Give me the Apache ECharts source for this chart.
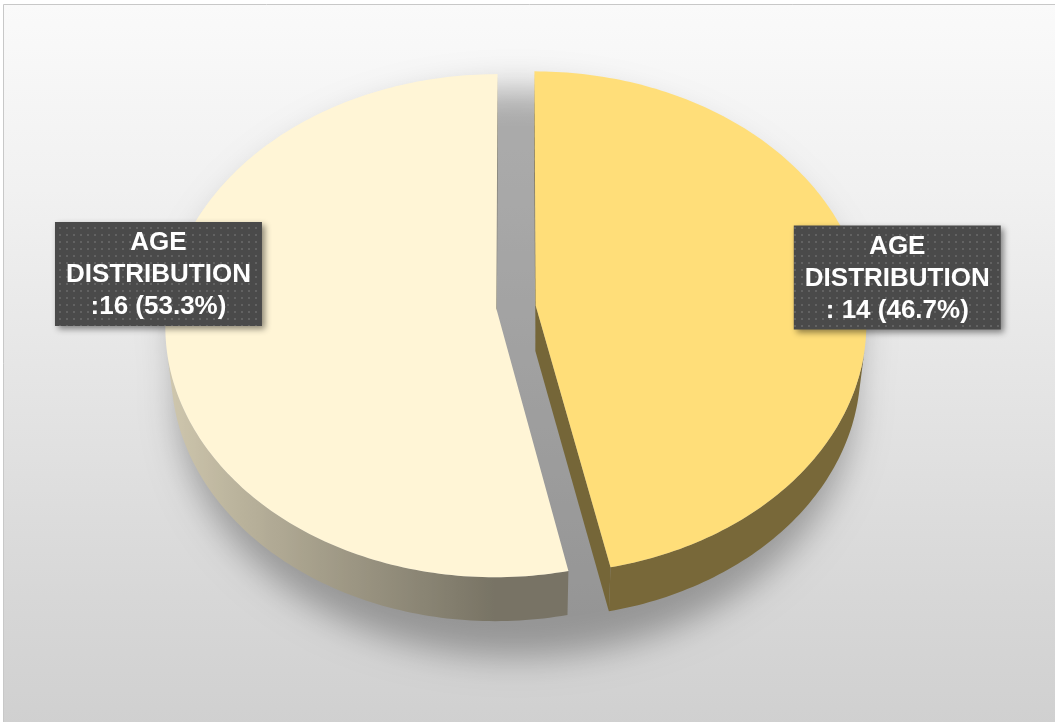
<!DOCTYPE html>
<html>
<head>
<meta charset="utf-8">
<script src="https://cdn.jsdelivr.net/npm/echarts@6/dist/echarts.min.js"></script>
<style>
  html, body { margin: 0; padding: 0; background: #ffffff; }
  #chart { width: 1055px; height: 722px; }
</style>
</head>
<body>
<div id="chart"></div>
<script>
// ---- data ----
const seriesName = 'AGE DISTRIBUTION';
const sliceValues = [14, 16];              // clockwise from 12 o'clock
const labelSeparators = [': ', ':'];
const sliceColors = ['#FFDE79', '#FFF5D6'];

// ---- 3D view of the pie (layout only) ----
const view = { cx: 516, cy: 307, scale: 330, tiltDeg: 49.3, dist: 9.6, depth: 0.215, explode: 0.06 };
const labelNudge = [[36, -2], [-7, -61]];
const labelBox = { width: 207, height: 104 };

const total = sliceValues.reduce((a, b) => a + b, 0);
const TAU = Math.PI * 2;
const tilt = view.tiltDeg * Math.PI / 180;
const sT = Math.sin(tilt), cT = Math.cos(tilt);
const camW = view.dist * cT;

// perspective projection of a point on the disc (u: right, w: toward viewer, h: up)
function project(u, w, h) {
  const yc = -w * sT + h * cT;
  const zc = view.dist - w * cT - h * sT;
  const k = view.dist / zc;
  return [view.cx + view.scale * u * k, view.cy - view.scale * yc * k];
}

function sliceGeom(i) {
  let before = 0;
  for (let j = 0; j < i; j++) before += sliceValues[j];
  const a0 = before / total * TAU;
  const a1 = (before + sliceValues[i]) / total * TAU;
  const mid = (a0 + a1) / 2;
  return { a0, a1, mid, ou: view.explode * Math.sin(mid), ow: -view.explode * Math.cos(mid) };
}

function rim(g, th, h, r) {
  r = r == null ? 1 : r;
  return project(g.ou + r * Math.sin(th), g.ow - r * Math.cos(th), h);
}

function arcAngles(a0, a1) {
  const n = Math.max(2, Math.ceil((a1 - a0) / (Math.PI / 180)));
  const out = [];
  for (let k = 0; k <= n; k++) out.push(a0 + (a1 - a0) * k / n);
  return out;
}

function shade(hex, f) {
  const v = parseInt(hex.slice(1), 16);
  const r = Math.round(((v >> 16) & 255) * f);
  const g = Math.round(((v >> 8) & 255) * f);
  const b = Math.round((v & 255) * f);
  return 'rgb(' + r + ',' + g + ',' + b + ')';
}

// side walls are lit from the left
function wallLight(th) {
  return 0.47 + 0.35 * Math.max(0, -Math.sin(th));
}

// dotted fill for the label boxes
function dotPattern() {
  const c = document.createElement('canvas');
  c.width = 7; c.height = 7;
  const g = c.getContext('2d');
  g.fillStyle = '#4a4a4a';
  g.fillRect(0, 0, 7, 7);
  g.fillStyle = '#626262';
  g.fillRect(3, 3, 2, 2);
  return c;
}
const dots = dotPattern();

function renderShadow(params, api) {
  const g = { ou: 0, ow: 0 };
  const pts = [];
  for (let d = 0; d < 360; d += 2) {
    const th = d * Math.PI / 180;
    const h = Math.cos(th) > 0 ? 0 : -view.depth;
    const p = rim(g, th, h, 1.04);
    pts.push([p[0] - 4000, p[1]]);
  }
  return {
    type: 'polygon',
    shape: { points: pts },
    style: {
      fill: '#000',
      shadowBlur: 34,
      shadowColor: 'rgba(0,0,0,0.3)',
      shadowOffsetX: 4000,
      shadowOffsetY: 26
    }
  };
}

function renderWalls(params, api) {
  const i = params.dataIndex;
  const g = sliceGeom(i);
  const base = sliceColors[i];
  const H = -view.depth;
  const children = [];

  const angles = arcAngles(g.a0, g.a1);
  const runs = [];
  let run = [];
  angles.forEach(th => {
    const visible = -g.ou * Math.sin(th) - 1 - (camW - g.ow) * Math.cos(th) > 0;
    if (visible) run.push(th);
    else if (run.length) { runs.push(run); run = []; }
  });
  if (run.length) runs.push(run);

  runs.forEach(r => {
    if (r.length < 2) return;
    const top = r.map(th => rim(g, th, 0));
    const bot = r.map(th => rim(g, th, H));
    const xs = top.concat(bot).map(p => p[0]);
    const xmin = Math.min.apply(null, xs), xmax = Math.max.apply(null, xs);
    const span = (xmax - xmin) || 1;
    const stops = r.map((th, k) => ({
      offset: Math.min(1, Math.max(0, (top[k][0] - xmin) / span)),
      color: shade(base, wallLight(th))
    })).sort((a, b) => a.offset - b.offset);
    children.push({
      type: 'polygon',
      shape: { points: top.concat(bot.slice().reverse()) },
      style: {
        fill: { type: 'linear', x: xmin, y: 0, x2: xmax, y2: 0, global: true, colorStops: stops }
      }
    });
  });

  // radial cut faces, only those turned toward the viewer
  [[g.a0, -1], [g.a1, 1]].forEach(([th, sgn]) => {
    const nu = sgn * Math.cos(th), nw = sgn * Math.sin(th);
    if (-g.ou * nu + (camW - g.ow) * nw <= 0) return;
    const pts = [project(g.ou, g.ow, 0), rim(g, th, 0), rim(g, th, H), project(g.ou, g.ow, H)];
    children.push({ type: 'polygon', shape: { points: pts }, style: { fill: shade(base, 0.46) } });
  });

  return { type: 'group', children };
}

function renderTops(params, api) {
  const i = params.dataIndex;
  const value = api.value(0);
  const g = sliceGeom(i);
  const pts = [project(g.ou, g.ow, 0)];
  arcAngles(g.a0, g.a1).forEach(th => pts.push(rim(g, th, 0)));

  const anchor = rim(g, g.mid, 0);
  const cx = anchor[0] + labelNudge[i][0];
  const cy = anchor[1] + labelNudge[i][1];
  const pct = (value / total * 100).toFixed(1) + '%';
  const text = seriesName.split(' ').join('\n') + '\n' + labelSeparators[i] + value + ' (' + pct + ')';

  return {
    type: 'group',
    children: [
      { type: 'polygon', shape: { points: pts }, style: { fill: sliceColors[i] } },
      {
        type: 'rect',
        shape: { x: cx - labelBox.width / 2, y: cy - labelBox.height / 2, width: labelBox.width, height: labelBox.height },
        style: {
          fill: { image: dots, repeat: 'repeat' },
          shadowBlur: 6,
          shadowOffsetX: 3,
          shadowOffsetY: 3,
          shadowColor: 'rgba(0,0,0,0.45)'
        }
      },
      {
        type: 'text',
        x: cx,
        y: cy + 1,
        style: {
          text: text,
          fill: '#ffffff',
          font: 'bold 26px "Liberation Sans", Arial, sans-serif',
          lineHeight: 32,
          align: 'center',
          verticalAlign: 'middle'
        }
      }
    ]
  };
}

const chart = echarts.init(document.getElementById('chart'), null, { renderer: 'canvas' });
const sliceData = sliceValues.map((v, i) => [v, i]);

chart.setOption({
  animation: false,
  graphic: [{
    type: 'rect',
    z: -10,
    silent: true,
    shape: { x: 3.5, y: 4.5, width: 1070, height: 740 },
    style: {
      fill: {
        type: 'linear', x: 0, y: 0, x2: 0, y2: 1,
        colorStops: [
          { offset: 0, color: '#fafafa' },
          { offset: 0.25, color: '#f1f1f1' },
          { offset: 0.55, color: '#e3e3e3' },
          { offset: 0.8, color: '#d7d7d7' },
          { offset: 1, color: '#cfcfcf' }
        ]
      },
      stroke: '#c8c8c8',
      lineWidth: 1
    }
  }],
  series: [
    { type: 'custom', name: 'shadow', silent: true, z: 1, coordinateSystem: 'none', data: [[0]], renderItem: renderShadow },
    { type: 'custom', name: seriesName + ' walls', silent: true, z: 2, coordinateSystem: 'none', data: sliceData, renderItem: renderWalls },
    { type: 'custom', name: seriesName, silent: true, z: 3, coordinateSystem: 'none', data: sliceData, renderItem: renderTops }
  ]
});
</script>
</body>
</html>
